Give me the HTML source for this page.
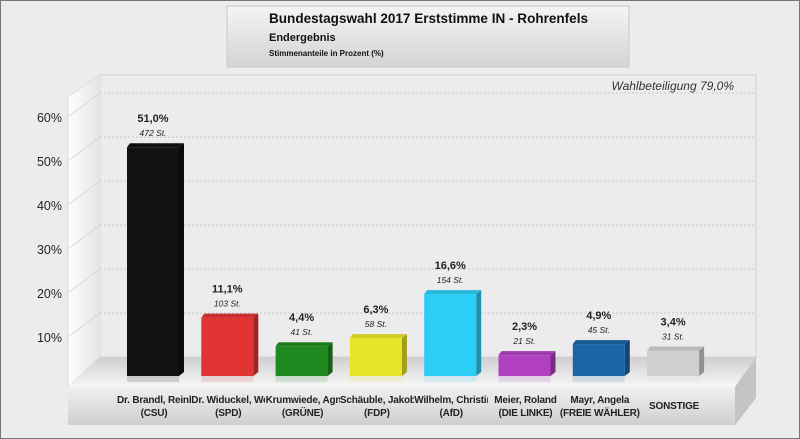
<!DOCTYPE html>
<html><head><meta charset="utf-8">
<style>
body{margin:0;width:800px;height:439px;overflow:hidden;background:#fff;font-family:"Liberation Sans",sans-serif}
#wrap{position:absolute;left:0;top:0;width:798px;height:437px;border:1px solid #777;background:#ececec}
.lab{position:absolute;top:393px;width:74px;height:30px;font-weight:bold;font-size:10px;letter-spacing:-0.2px;color:#222;white-space:nowrap;line-height:13px}
.ln{display:flex;justify-content:center;width:74px;height:13px}
.clip{justify-content:flex-start;overflow:hidden}
</style></head><body>
<div id="wrap">
<svg id="chart" width="800" height="439" style="position:absolute;left:-1px;top:-1px">
<defs>
<linearGradient id="tg" x1="0" y1="0" x2="0" y2="1"><stop offset="0" stop-color="#f4f4f4"/><stop offset="1" stop-color="#d4d4d4"/></linearGradient>
<linearGradient id="fg" x1="0" y1="0" x2="0" y2="1"><stop offset="0" stop-color="#f0f0f0"/><stop offset="1" stop-color="#cfcfcf"/></linearGradient>
<linearGradient id="flg" x1="0" y1="0" x2="0" y2="1"><stop offset="0" stop-color="#cfcfcf"/><stop offset="1" stop-color="#f7f7f7"/></linearGradient>
<linearGradient id="lw" x1="0" y1="0" x2="1" y2="0"><stop offset="0" stop-color="#ffffff"/><stop offset="1" stop-color="#e4e4e4"/></linearGradient>
</defs>
<rect x="227" y="6" width="402" height="61" fill="url(#tg)" stroke="#c8c8c8"/>
<text x="269" y="23" font-size="13.5" font-weight="bold" fill="#111" textLength="319" lengthAdjust="spacingAndGlyphs">Bundestagswahl 2017 Erststimme IN - Rohrenfels</text>
<text x="269" y="41" font-size="11" font-weight="bold" fill="#111">Endergebnis</text>
<text x="269" y="56" font-size="8" font-weight="bold" fill="#111">Stimmenanteile in Prozent (%)</text>
<rect x="100" y="75" width="656" height="282" fill="#ececec" stroke="#d0d0d0"/>
<polygon points="100,75 68,97 68,387 100,357" fill="url(#lw)" stroke="#ddd"/>
<polygon points="100,357 756,357 735,387 68,387" fill="url(#flg)"/>
<polygon points="735,387 756,357 756,398 735,425" fill="#c4c4c4"/>
<rect x="68" y="387" width="667" height="38" fill="url(#fg)"/>
<text x="734" y="90" font-size="12" font-style="italic" fill="#333" text-anchor="end">Wahlbeteiligung 79,0%</text>
<g id="grid"></g><g id="bars"></g>
</svg>
<div id="labs"></div>
</div>
<script>
const categories=["Dr. Brandl, Reinh|(CSU)","Dr. Widuckel, We|(SPD)","Krumwiede, Agn|(GRÜNE)","Schäuble, Jakob|(FDP)","Wilhelm, Christin|(AfD)","Meier, Roland|(DIE LINKE)","Mayr, Angela|(FREIE WÄHLER)","SONSTIGE"];
const values=[51.0,11.1,4.4,6.3,16.6,2.3,4.9,3.4];
const votes=[472,103,41,58,154,21,45,31];
const colors=["#111111","#e03434","#1f8a1f","#e8e428","#2ccdf6","#b040c0","#1c64a6","#cfcfcf"];
const yTicks=[10,20,30,40,50,60];
const NS="http://www.w3.org/2000/svg";
const yBack=v=>357-v*4.4, yBar=v=>365-v*4.27, xc=i=>153+74.3*i;
function mk(t,a,p){const e=document.createElementNS(NS,t);for(const k in a)e.setAttribute(k,a[k]);p.appendChild(e);return e;}
const grid=document.getElementById('grid');
yTicks.forEach(v=>{
 const l=mk('line',{x1:100,x2:756,y1:yBack(v),y2:yBack(v),stroke:'#c8c8c8','stroke-dasharray':'2,2'},grid);
 
 
 const d=mk('line',{x1:68,y1:yBack(v)+24,x2:100,y2:yBack(v),stroke:'#d8d8d8'},grid);
 
 
 const t=mk('text',{x:62,y:yBack(v)+29,'text-anchor':'end','font-size':12.5,fill:'#222'},grid);
 t.textContent=v+'%';
 
 
});
const bars=document.getElementById('bars'),labs=document.getElementById('labs');
function shade(c,f){const n=parseInt(c.slice(1),16);let r=n>>16,g=n>>8&255,b=n&255;return`rgb(${r*f|0},${g*f|0},${b*f|0})`;}
values.forEach((v,i)=>{
 const x=xc(i)-26,w=52,top=yBar(v),bot=376;
 const g=mk('g',{},bars);
 
 
 mk('rect',{x:x,y:bot,width:w,height:6,fill:colors[i],opacity:0.15},g);
 mk('polygon',{points:`${x+w},${top} ${x+w+5},${top-4} ${x+w+5},${bot-4} ${x+w},${bot}`,fill:shade(colors[i],0.7)},g);
 mk('polygon',{points:`${x},${top} ${x+3},${top-4} ${x+w+5},${top-4} ${x+w},${top}`,fill:shade(colors[i],0.9)},g);
 mk('rect',{x:x,y:top,width:w,height:bot-top,fill:colors[i]},g);
 const p=mk('text',{x:xc(i),y:top-25,'text-anchor':'middle','font-size':11,'font-weight':'bold',fill:'#222'},bars);
 p.textContent=v.toFixed(1).replace('.',',')+'%';
 
 
 const s=mk('text',{x:xc(i),y:top-11,'text-anchor':'middle','font-size':8.5,'font-style':'italic',fill:'#222'},bars);
 s.textContent=votes[i]+' St.';
 
 
 const d=document.createElement('div');
 d.className='lab';d.style.left=(xc(i)-37)+'px';
 const parts=categories[i].split('|');
 parts.forEach((t,k)=>{
  const ln=document.createElement('div');ln.className='ln';
  const sp=document.createElement('span');sp.textContent=t;ln.appendChild(sp);d.appendChild(ln);
 });
 if(parts.length==1)d.style.top='399px';
 
 
 labs.appendChild(d);
 const first=d.firstChild;
 if(first.firstChild.offsetWidth>74)first.classList.add('clip');
});
</script>
</body></html>
